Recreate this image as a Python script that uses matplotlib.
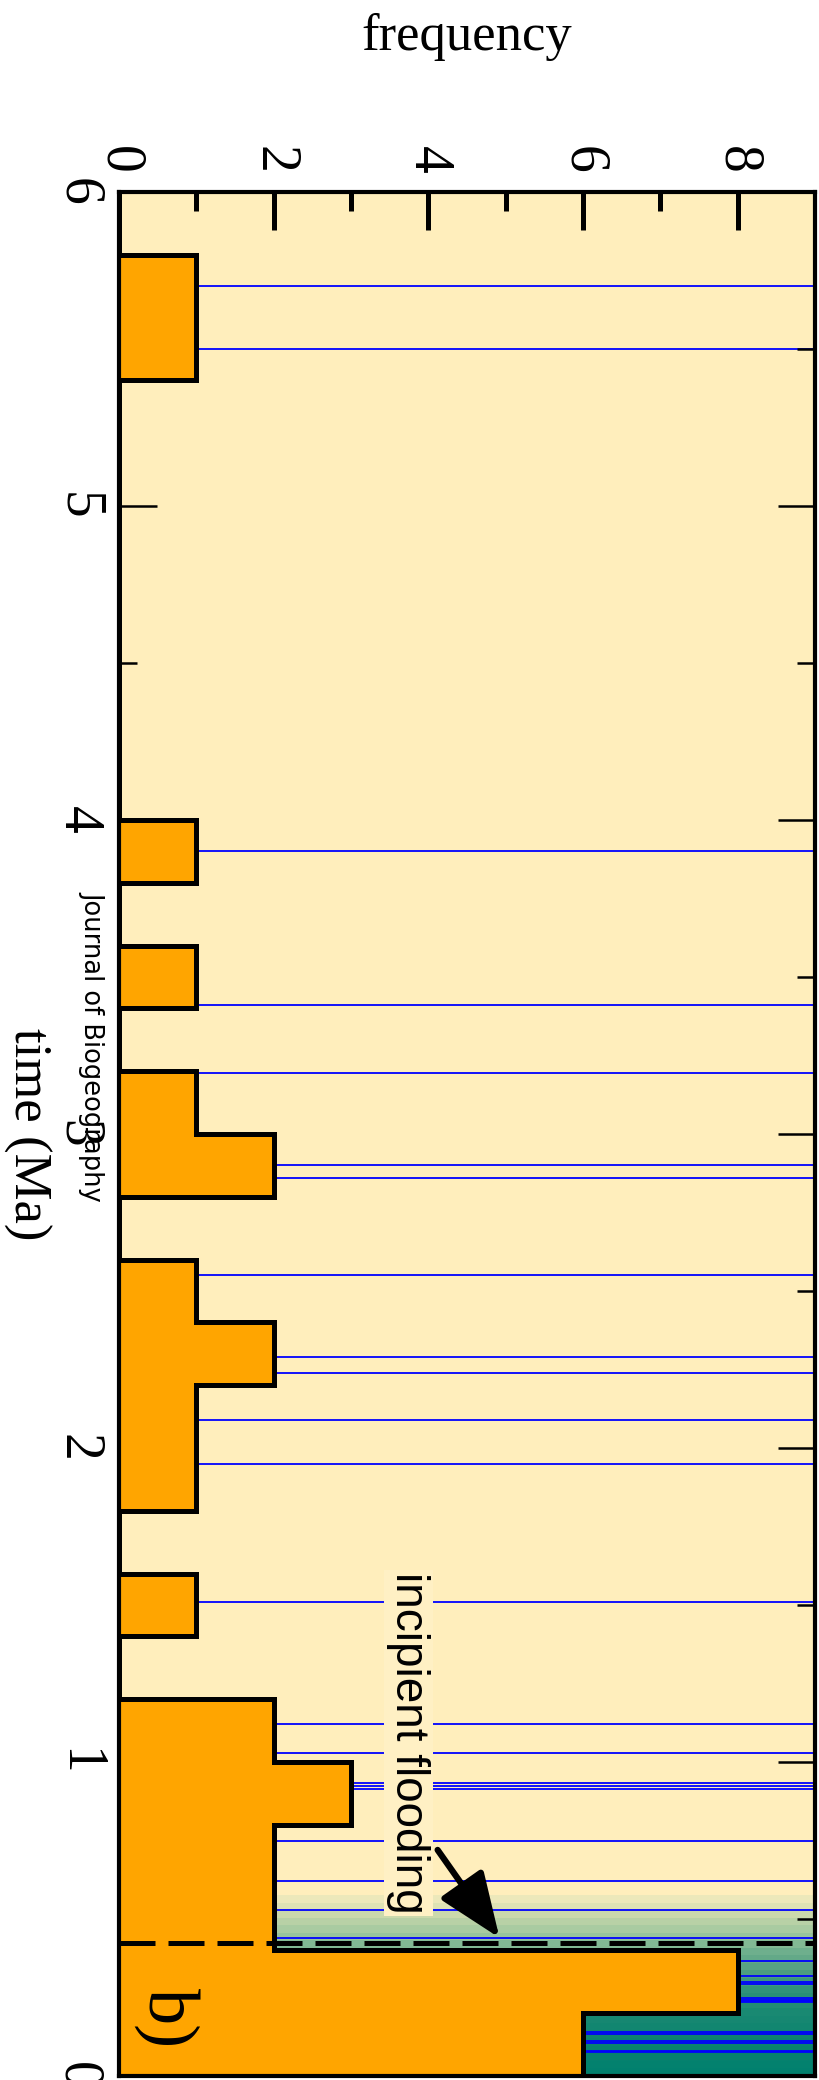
import numpy as np
import matplotlib
matplotlib.use("Agg")
import matplotlib.pyplot as plt
from matplotlib.colors import LinearSegmentedColormap

# ---------------- data ----------------
bin_edges = [round(0.2 * i, 1) for i in range(31)]          # 0.0 ... 6.0 Ma
bin_counts = [6, 8, 2, 2, 3, 2, 0, 1, 0, 1,
              1, 2, 1, 0, 2, 1, 0, 1, 0, 1,
              0, 0, 0, 0, 0, 0, 0, 1, 1, 0]
event_times = [0.077, 0.08, 0.105, 0.11, 0.134, 0.14,
               0.235, 0.239, 0.243, 0.248, 0.293, 0.30, 0.32, 0.366,
               0.44, 0.53, 0.62, 0.75, 0.914, 0.924, 0.933, 1.03, 1.12,
               1.51, 1.95, 2.09, 2.24, 2.29, 2.55, 2.86, 2.90, 3.195,
               3.41, 3.90, 5.50, 5.70]
flooding_time = 0.424
time_ticks = [0, 1, 2, 3, 4, 5, 6]
freq_ticks = [0, 2, 4, 6, 8]

# gradient (time, colour) for the flooding background
grad_stops = [(0.00, (0, 128, 110)), (0.10, (10, 131, 111)), (0.20, (25, 137, 114)),
              (0.28, (50, 148, 122)), (0.34, (85, 161, 131)), (0.40, (112, 176, 142)),
              (0.44, (150, 195, 156)), (0.50, (190, 212, 168)), (0.54, (222, 226, 180)),
              (0.57, (240, 234, 188)), (0.575, (255, 238, 188))]

# ---------------- figure ----------------
W, H, DPI = 819, 2080, 100
fig = plt.figure(figsize=(W / DPI, H / DPI), dpi=DPI)
ax = fig.add_axes([119 / W, 1 - 2076 / H, (815 - 119) / W, (2076 - 192) / H])
bg = '#FFEEBC'
ax.set_facecolor(bg)
ax.set_xlim(0, 9)
ax.set_ylim(0, 6)

# gradient background
gmax = grad_stops[-1][0]
cmap = LinearSegmentedColormap.from_list(
    'flood', [(t / gmax, tuple(c / 255 for c in col)) for t, col in grad_stops])
nb = 24
vals = (np.arange(nb) + 0.5) / nb
ax.imshow(vals[:, None], cmap=cmap, vmin=0, vmax=1, origin='lower',
          extent=[0, 9, 0, gmax], aspect='auto', zorder=0.5, interpolation='nearest')

# event lines
for t in event_times:
    ax.axhline(t, color='#0000FF', lw=1.3, zorder=1)

# histogram
ax.stairs(bin_counts, bin_edges, orientation='horizontal', fill=True,
          facecolor='#FFA500', edgecolor='black', linewidth=3.6, zorder=2)

# flooding line
ax.axhline(flooding_time, color='black', lw=3.6, dashes=(7.2, 2.6), zorder=3)

# axes styling
for s in ax.spines.values():
    s.set_linewidth(3.0)
    s.set_zorder(5)

serif = ['Liberation Serif', 'DejaVu Serif']
ax.xaxis.tick_top()
ax.set_xticks(freq_ticks)
ax.set_xticks([1, 3, 5, 7], minor=True)
ax.set_xticklabels([str(v) for v in freq_ticks], rotation=-90, family=serif, fontsize=40)
ax.tick_params(axis='x', which='major', direction='in', length=27, width=3.6,
               top=True, bottom=False, pad=13)
ax.tick_params(axis='x', which='minor', direction='in', length=13.5, width=3.6,
               top=True, bottom=False)

ax.set_yticks(time_ticks)
ax.set_yticks([0.5, 1.5, 2.5, 3.5, 4.5, 5.5], minor=True)
ax.set_yticklabels([str(v) for v in time_ticks], rotation=-90, family=serif,
                   fontsize=40, va='center')
ax.tick_params(axis='y', which='major', direction='in', length=27, width=1.8,
               left=True, right=True, pad=11)
ax.tick_params(axis='y', which='minor', direction='in', length=13, width=1.8,
               left=True, right=True)

# labels
fig.text(467 / W, 1 - 50 / H, 'frequency', family=serif, fontsize=38,
         ha='center', va='baseline')
fig.text(27 / W, 1 - 1134 / H, 'time (Ma)', family=serif, fontsize=38,
         ha='center', va='center', rotation=-90)
fig.text(92 / W, 1 - 1046 / H, 'Journal of Biogeography', family=['DejaVu Sans'],
         fontsize=18.5, ha='center', va='center', rotation=-90)

# panel letter
ax.text(0.62, 0.185, 'b)', family=serif, fontsize=52, rotation=-90,
        ha='center', va='center', zorder=6)

# annotation
ax.text(3.74, 1.06, 'incipient flooding', family=['Liberation Sans', 'DejaVu Sans'],
        fontsize=33, rotation=-90, ha='center', va='center', zorder=4,
        bbox=dict(boxstyle='square,pad=0.05', facecolor='#FFF0C4', edgecolor='none'))
ax.annotate('', xy=(4.92, 0.44), xytext=(4.12, 0.72),
            arrowprops=dict(arrowstyle='-|>,head_length=1.0,head_width=0.4',
                            color='black', lw=4.5, shrinkA=0, shrinkB=0, mutation_scale=40),
            zorder=4)

fig.savefig('out.png', dpi=DPI)
